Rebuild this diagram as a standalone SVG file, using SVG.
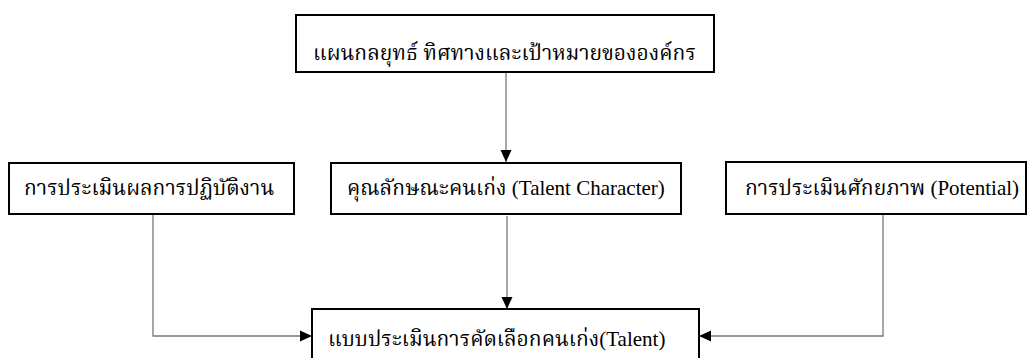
<svg xmlns="http://www.w3.org/2000/svg" width="1030" height="358" viewBox="0 0 1030 358">
<style>
.box{fill:#fff;stroke:#000;stroke-width:2}
.t{font-family:"Liberation Serif","Noto Serif Thai","Noto Sans Thai",serif;font-size:21px;fill:#000}
.c{fill:none;stroke:#777;stroke-width:1.3}
</style>
<defs>
<marker id="ah" viewBox="0 0 12 12" refX="12" refY="6" markerWidth="12" markerHeight="12" markerUnits="userSpaceOnUse" orient="auto">
<path d="M0,0.5L12,6L0,11.5Z" fill="#000"/>
</marker>
</defs>
<rect width="1030" height="358" fill="#fff"/>
<g id="connectors">
<path class="c" d="M506,72V162" marker-end="url(#ah)"/>
<path class="c" d="M507,216V309" marker-end="url(#ah)"/>
<path class="c" d="M153,214V336H312" marker-end="url(#ah)"/>
<path class="c" d="M883,214V336H699" marker-end="url(#ah)"/>
</g>
<g id="n-strategy">
<rect class="box" x="296" y="15" width="418" height="57"/>
<text class="t" x="313" y="60">แผนกลยุทธ์ ทิศทางและเป้าหมายขององค์กร</text>
</g>
<g id="n-performance">
<rect class="box" x="9" y="163" width="285" height="51"/>
<text class="t" x="24" y="195">การประเมินผลการปฏิบัติงาน</text>
</g>
<g id="n-character">
<rect class="box" x="331" y="163" width="350" height="51"/>
<text class="t" x="347" y="195">คุณลักษณะคนเก่ง (Talent Character)</text>
</g>
<g id="n-potential">
<rect class="box" x="726" y="162" width="300" height="52"/>
<text class="t" x="745" y="195">การประเมินศักยภาพ (Potential)</text>
</g>
<g id="n-form">
<rect class="box" x="312" y="309" width="387" height="60"/>
<text class="t" x="328" y="346">แบบประเมินการคัดเลือกคนเก่ง(Talent)</text>
</g>
</svg>
